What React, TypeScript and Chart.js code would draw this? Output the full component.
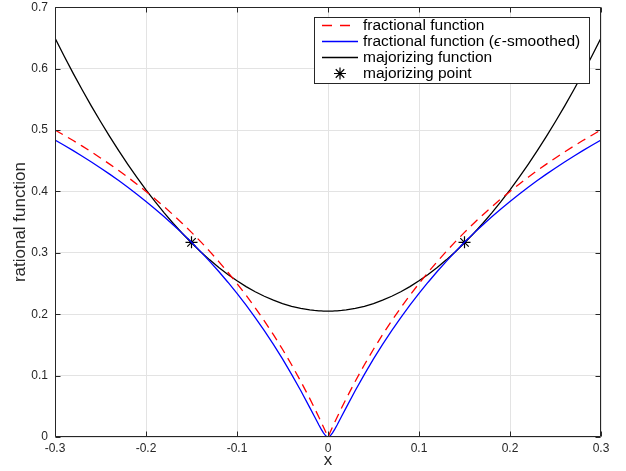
import React, { useEffect, useRef } from "react";
import { Chart, registerables } from "chart.js";
Chart.register(...registerables);

const xValues = [-0.3,-0.29,-0.28,-0.27,-0.26,-0.25,-0.24,-0.23,-0.22,-0.21,-0.2,-0.19,-0.18,-0.17,-0.16,-0.15,-0.14,-0.13,-0.12,-0.11,-0.1,-0.09,-0.08,-0.07,-0.06,-0.05,-0.04,-0.03,-0.02,-0.015,-0.01,-0.0075,-0.005,-0.0025,0,0.0025,0.005,0.0075,0.01,0.015,0.02,0.03,0.04,0.05,0.06,0.07,0.08,0.09,0.1,0.11,0.12,0.13,0.14,0.15,0.16,0.17,0.18,0.19,0.2,0.21,0.22,0.23,0.24,0.25,0.26,0.27,0.28,0.29,0.3];

const fractionalValues = [0.5,0.4915,0.4828,0.4737,0.4643,0.4545,0.4444,0.434,0.4231,0.4118,0.4,0.3878,0.375,0.3617,0.3478,0.3333,0.3182,0.3023,0.2857,0.2683,0.25,0.2308,0.2105,0.1892,0.1667,0.1429,0.1176,0.0909,0.0625,0.0476,0.0323,0.0244,0.0164,0.0083,0,0.0083,0.0164,0.0244,0.0323,0.0476,0.0625,0.0909,0.1176,0.1429,0.1667,0.1892,0.2105,0.2308,0.25,0.2683,0.2857,0.3023,0.3182,0.3333,0.3478,0.3617,0.375,0.3878,0.4,0.4118,0.4231,0.434,0.4444,0.4545,0.4643,0.4737,0.4828,0.4915,0.5];

const smoothedValues = [0.4837,0.4752,0.4664,0.4573,0.4479,0.4382,0.4281,0.4176,0.4068,0.3954,0.3837,0.3715,0.3587,0.3454,0.3316,0.3171,0.3019,0.2861,0.2695,0.2521,0.2338,0.2147,0.1945,0.1732,0.1508,0.1271,0.1021,0.0757,0.0479,0.0337,0.0195,0.0128,0.0066,0.0019,0,0.0019,0.0066,0.0128,0.0195,0.0337,0.0479,0.0757,0.1021,0.1271,0.1508,0.1732,0.1945,0.2147,0.2338,0.2521,0.2695,0.2861,0.3019,0.3171,0.3316,0.3454,0.3587,0.3715,0.3837,0.3954,0.4068,0.4176,0.4281,0.4382,0.4479,0.4573,0.4664,0.4752,0.4837];

const majorizingValues = [0.6496,0.6205,0.5923,0.5651,0.5389,0.5138,0.4895,0.4663,0.4441,0.4229,0.4026,0.3833,0.3651,0.3478,0.3315,0.3162,0.3018,0.2885,0.2761,0.2648,0.2544,0.245,0.2366,0.2292,0.2228,0.2174,0.2129,0.2094,0.207,0.2061,0.2055,0.2053,0.2051,0.205,0.205,0.205,0.2051,0.2053,0.2055,0.2061,0.207,0.2094,0.2129,0.2174,0.2228,0.2292,0.2366,0.245,0.2544,0.2648,0.2761,0.2885,0.3018,0.3162,0.3315,0.3478,0.3651,0.3833,0.4026,0.4229,0.4441,0.4663,0.4895,0.5138,0.5389,0.5651,0.5923,0.6205,0.6496];

const majorizingPointX = [-0.15, 0.15];
const majorizingPointY = [0.317, 0.317];

const xTicks = [-0.3, -0.2, -0.1, 0, 0.1, 0.2, 0.3];
const yTicks = [0, 0.1, 0.2, 0.3, 0.4, 0.5, 0.6, 0.7];

const legendLabels = [
  "fractional function",
  "fractional function (\u03f5-smoothed)",
  "majorizing function",
  "majorizing point",
];

const FONT = "'Liberation Sans', Arial, Helvetica, sans-serif";
const AXIS_COLOR = "#262626";
const LEGEND_FONT_SIZE = 15.5;

const fmt = (v: number) => {
  const r = Math.round(v * 10) / 10;
  return r === 0 ? "0" : String(r);
};

// draw text, rendering the epsilon glyph in italics as in the original
const drawRich = (ctx: CanvasRenderingContext2D, text: string, x: number, y: number) => {
  const parts = text.split(/(\u03f5)/);
  let cx = x;
  parts.forEach((p) => {
    if (!p) return;
    ctx.font = p === "\u03f5"
      ? `italic ${LEGEND_FONT_SIZE}px ${FONT}`
      : `${LEGEND_FONT_SIZE}px ${FONT}`;
    ctx.fillText(p, cx, y);
    cx += ctx.measureText(p).width + (p === "\u03f5" ? 1 : 0);
  });
};

const boxPlugin = {
  id: "matlabBox",
  afterDatasetsDraw(chart: any) {
    const { ctx, chartArea, scales } = chart;
    const L = Math.round(chartArea.left) + 0.5;
    const R = Math.round(chartArea.right) - 0.5;
    const T = Math.round(chartArea.top) + 0.5;
    const B = Math.round(chartArea.bottom) - 0.5;
    ctx.save();
    ctx.strokeStyle = AXIS_COLOR;
    ctx.lineWidth = 1;
    ctx.beginPath();
    ctx.rect(L, T, R - L, B - T);
    const tl = 5;
    xTicks.forEach((v) => {
      const px = Math.round(scales.x.getPixelForValue(v)) + 0.5;
      ctx.moveTo(px, B);
      ctx.lineTo(px, B - tl);
      ctx.moveTo(px, T);
      ctx.lineTo(px, T + tl);
    });
    yTicks.forEach((v) => {
      const py = Math.round(scales.y.getPixelForValue(v)) + 0.5;
      ctx.moveTo(L, py);
      ctx.lineTo(L + tl, py);
      ctx.moveTo(R, py);
      ctx.lineTo(R - tl, py);
    });
    ctx.stroke();
    ctx.restore();
  },
  afterDraw(chart: any) {
    const { ctx } = chart;
    ctx.save();
    const bx = 314.5, by = 17.5, bw = 275, bh = 66;
    ctx.fillStyle = "#ffffff";
    ctx.fillRect(bx, by, bw, bh);
    ctx.strokeStyle = AXIS_COLOR;
    ctx.lineWidth = 1;
    ctx.strokeRect(bx, by, bw, bh);
    const rows = [25.5, 41.5, 57.5, 73.5];
    const x0 = 322, x1 = 358;
    ctx.lineWidth = 1.3;
    ctx.strokeStyle = "#ff0000";
    ctx.setLineDash([10, 8]);
    ctx.beginPath();
    ctx.moveTo(x0, rows[0]);
    ctx.lineTo(x1, rows[0]);
    ctx.stroke();
    ctx.setLineDash([]);
    ctx.strokeStyle = "#0000ff";
    ctx.beginPath();
    ctx.moveTo(x0, rows[1]);
    ctx.lineTo(x1, rows[1]);
    ctx.stroke();
    ctx.strokeStyle = "#000000";
    ctx.beginPath();
    ctx.moveTo(x0, rows[2]);
    ctx.lineTo(x1, rows[2]);
    ctx.stroke();
    const cx = 340, cy = rows[3], r = 6;
    ctx.lineWidth = 1.2;
    ctx.beginPath();
    for (let k = 0; k < 4; k++) {
      const a = (k * Math.PI) / 4;
      ctx.moveTo(cx - r * Math.cos(a), cy - r * Math.sin(a));
      ctx.lineTo(cx + r * Math.cos(a), cy + r * Math.sin(a));
    }
    ctx.stroke();
    ctx.fillStyle = "#000000";
    ctx.textBaseline = "middle";
    ctx.textAlign = "left";
    legendLabels.forEach((t, i) => drawRich(ctx, t, 363, rows[i]));
    ctx.restore();
  },
};

export default function App() {
  const ref = useRef<HTMLCanvasElement>(null);
  useEffect(() => {
    const canvas = ref.current!;
    const pts = (ys: number[]) => xValues.map((x, i) => ({ x, y: ys[i] }));
    const chart = new Chart(canvas, {
      type: "scatter",
      data: {
        datasets: [
          {
            label: legendLabels[0],
            data: pts(fractionalValues),
            showLine: true,
            borderColor: "#ff0000",
            borderWidth: 1.3,
            borderDash: [9, 6],
            pointRadius: 0,
            tension: 0,
          },
          {
            label: legendLabels[1],
            data: pts(smoothedValues),
            showLine: true,
            borderColor: "#0000ff",
            borderWidth: 1.3,
            pointRadius: 0,
            tension: 0,
          },
          {
            label: legendLabels[2],
            data: pts(majorizingValues),
            showLine: true,
            borderColor: "#000000",
            borderWidth: 1.3,
            pointRadius: 0,
            tension: 0,
          },
          {
            label: legendLabels[3],
            data: majorizingPointX.map((x, i) => ({ x, y: majorizingPointY[i] })),
            showLine: false,
            pointStyle: "star",
            pointRadius: 6,
            borderColor: "#000000",
            backgroundColor: "#000000",
            borderWidth: 1.2,
          },
        ] as any,
      },
      options: {
        responsive: false,
        animation: false,
        devicePixelRatio: 1,
        layout: { padding: { top: 5, right: 25, left: 0, bottom: 0 } },
        plugins: { legend: { display: false }, tooltip: { enabled: false } },
        scales: {
          x: {
            type: "linear",
            min: -0.3,
            max: 0.3,
            afterBuildTicks: (s: any) => {
              s.ticks = xTicks.map((v) => ({ value: v }));
            },
            afterFit: (s: any) => {
              s.height = 34;
              s.paddingLeft = 0;
              s.paddingRight = 0;
            },
            ticks: {
              callback: (v: any) => fmt(Number(v)),
              font: { family: FONT, size: 12 },
              color: AXIS_COLOR,
              padding: 4,
              maxRotation: 0,
              autoSkip: false,
            },
            grid: { color: "#e3e3e3", drawTicks: false, lineWidth: 1 },
            border: { display: false },
            title: {
              display: true,
              text: "x",
              font: { family: FONT, size: 17 },
              color: AXIS_COLOR,
              padding: { top: 0, bottom: 0 },
            },
          },
          y: {
            type: "linear",
            min: 0,
            max: 0.7,
            afterBuildTicks: (s: any) => {
              s.ticks = yTicks.map((v) => ({ value: v }));
            },
            afterFit: (s: any) => {
              s.width = 55;
              s.paddingTop = 0;
              s.paddingBottom = 0;
            },
            ticks: {
              callback: (v: any) => fmt(Number(v)),
              font: { family: FONT, size: 12 },
              color: AXIS_COLOR,
              padding: 7,
              autoSkip: false,
            },
            grid: { color: "#e3e3e3", drawTicks: false, lineWidth: 1 },
            border: { display: false },
            title: {
              display: true,
              text: "rational function",
              font: { family: FONT, size: 17 },
              color: AXIS_COLOR,
              padding: { top: 10, bottom: 0 },
            },
          },
        },
      },
      plugins: [boxPlugin],
    } as any);
    return () => chart.destroy();
  }, []);
  return (
    <div style={{ position: "fixed", left: 0, top: 0, width: 626, height: 471, background: "#ffffff" }}>
      <canvas ref={ref} width={626} height={471} style={{ display: "block" }} />
    </div>
  );
}
